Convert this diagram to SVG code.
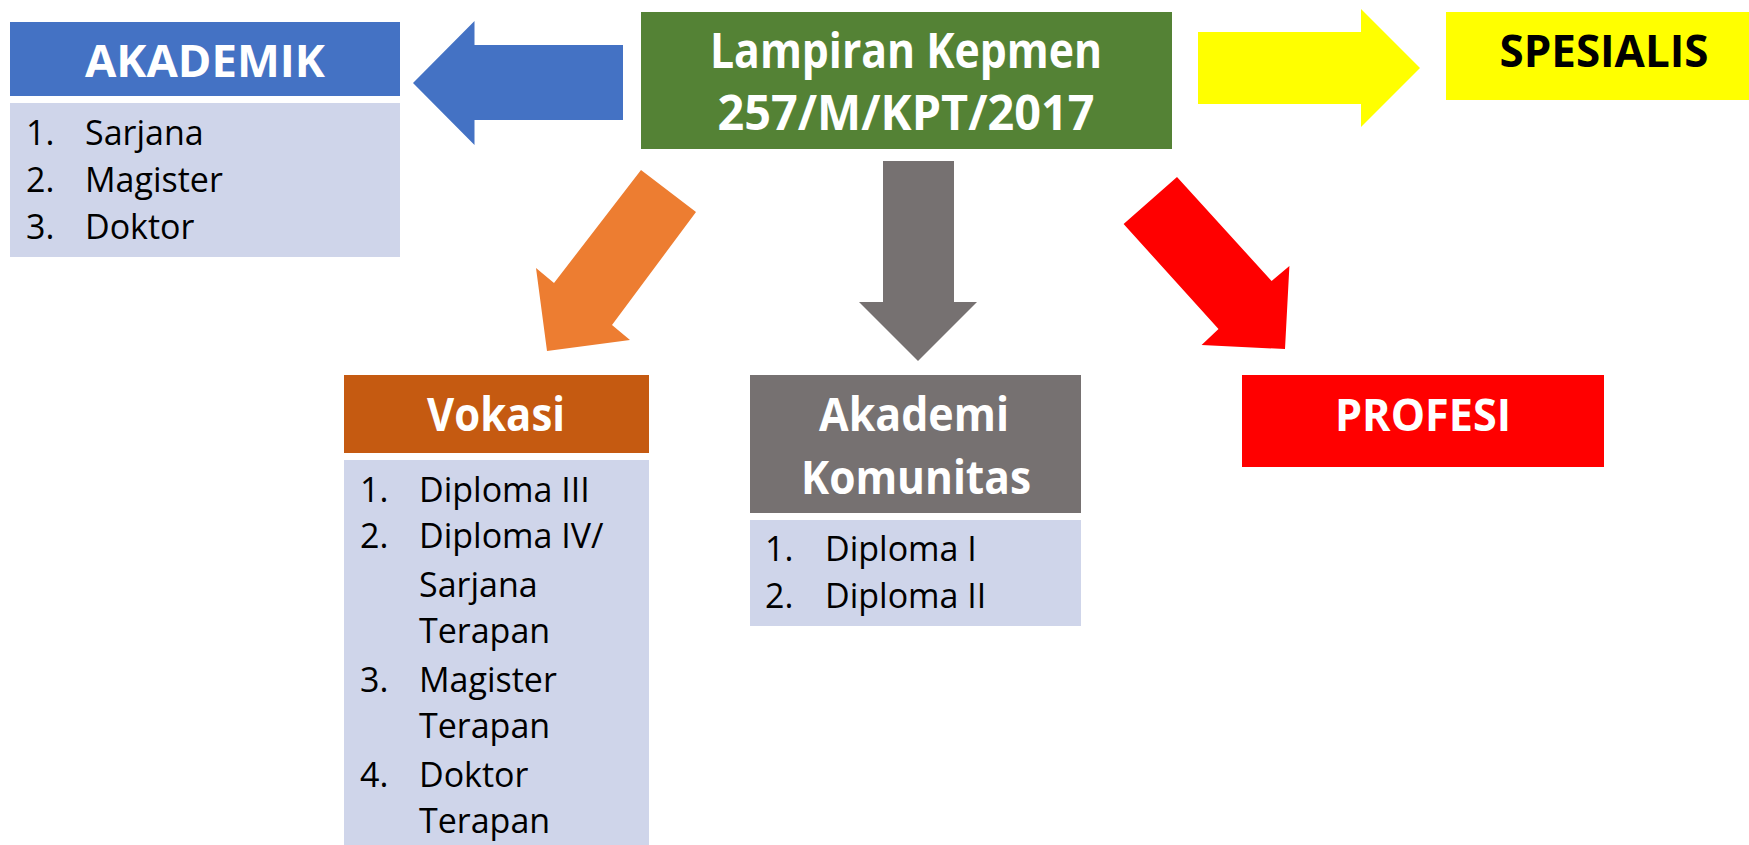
<svg xmlns="http://www.w3.org/2000/svg" width="1749" height="845" viewBox="0 0 1749 845">
<style>
.hd{font-family:"Open Sans","Noto Sans","Liberation Sans",sans-serif;font-weight:700;text-anchor:middle;fill:#FFFFFF}
.bd{font-family:"Open Sans","Noto Sans","Liberation Sans",sans-serif;font-size:34px;fill:#000000}
.list{fill:#CFD5EA}
</style>
<rect width="1749" height="845" fill="#FFFFFF"/>
<g id="connectors">
<polygon points="623,45 474.5,45 474.5,21 413,83 474.5,145 474.5,120 623,120" fill="#4472C4"/>
<polygon points="1198,32 1361,32 1361,9 1420,68 1361,127 1361,104 1198,104" fill="#FFFF00"/>
<polygon points="883,161 954,161 954,302 977,302 918,361 859,302 883,302" fill="#767171"/>
<polygon points="641,170 696,212 612,325 630,340 547,351 536,268 554,283" fill="#ED7D31"/>
<polygon points="1177,177 1271.6,281 1289.4,266 1285,349 1201.6,345 1218.5,329 1123.6,224" fill="#FF0000"/>
</g>
<g id="kepmen">
<rect x="641" y="12" width="531" height="137" fill="#548235"/>
<text class="hd" x="906" y="68" font-size="48" textLength="392" lengthAdjust="spacingAndGlyphs">Lampiran Kepmen</text>
<text class="hd" x="906" y="130" font-size="48" textLength="377" lengthAdjust="spacingAndGlyphs">257/M/KPT/2017</text>
</g>
<g id="akademik">
<rect x="10" y="22" width="390" height="74" fill="#4472C4"/>
<text class="hd" x="205" y="77" font-size="45" textLength="240" lengthAdjust="spacingAndGlyphs">AKADEMIK</text>
<rect class="list" x="10" y="103" width="390" height="154"/>
<text class="bd" x="26" y="145">1.</text><text class="bd" x="85" y="145">Sarjana</text>
<text class="bd" x="26" y="192">2.</text><text class="bd" x="85" y="192">Magister</text>
<text class="bd" x="26" y="239">3.</text><text class="bd" x="85" y="239">Doktor</text>
</g>
<g id="spesialis">
<rect x="1446" y="12" width="303" height="88" fill="#FFFF00"/>
<text class="hd" x="1604" y="67" font-size="45" fill="#000000" style="fill:#000000" textLength="209" lengthAdjust="spacingAndGlyphs">SPESIALIS</text>
</g>
<g id="vokasi">
<rect x="344" y="375" width="305" height="78" fill="#C55A11"/>
<text class="hd" x="496" y="431" font-size="46" textLength="138" lengthAdjust="spacingAndGlyphs">Vokasi</text>
<rect class="list" x="344" y="460" width="305" height="385"/>
<text class="bd" x="360" y="502">1.</text><text class="bd" x="419" y="502">Diploma III</text>
<text class="bd" x="360" y="548">2.</text><text class="bd" x="419" y="548">Diploma IV/</text>
<text class="bd" x="419" y="597">Sarjana</text>
<text class="bd" x="419" y="643">Terapan</text>
<text class="bd" x="360" y="692">3.</text><text class="bd" x="419" y="692">Magister</text>
<text class="bd" x="419" y="738">Terapan</text>
<text class="bd" x="360" y="787">4.</text><text class="bd" x="419" y="787">Doktor</text>
<text class="bd" x="419" y="833">Terapan</text>
</g>
<g id="akademi-komunitas">
<rect x="750" y="375" width="331" height="138" fill="#767171"/>
<text class="hd" x="914" y="431" font-size="46" textLength="190" lengthAdjust="spacingAndGlyphs">Akademi</text>
<text class="hd" x="916" y="494" font-size="46" textLength="230" lengthAdjust="spacingAndGlyphs">Komunitas</text>
<rect class="list" x="750" y="520" width="331" height="106"/>
<text class="bd" x="765" y="561">1.</text><text class="bd" x="825" y="561">Diploma I</text>
<text class="bd" x="765" y="608">2.</text><text class="bd" x="825" y="608">Diploma II</text>
</g>
<g id="profesi">
<rect x="1242" y="375" width="362" height="92" fill="#FF0000"/>
<text class="hd" x="1423" y="431" font-size="45" textLength="176" lengthAdjust="spacingAndGlyphs">PROFESI</text>
</g>
</svg>
